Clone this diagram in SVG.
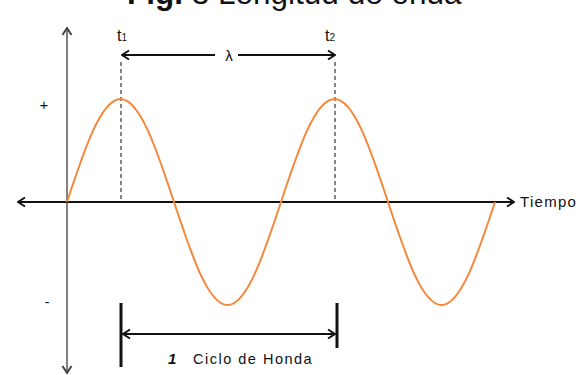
<svg xmlns="http://www.w3.org/2000/svg" width="580" height="375" viewBox="0 0 580 375">
  <style>
    .lbl { font-family: "Liberation Sans", Arial, sans-serif; fill: #111; }
    .axis { stroke: #111; stroke-width: 2; fill: none; }
    .vaxis { stroke: #808080; stroke-width: 2; fill: none; }
    .dash { stroke: #333; stroke-width: 1.2; stroke-dasharray: 4 3; fill: none; }
    .dim { stroke: #111; stroke-width: 2; fill: none; }
    .bar { stroke: #111; stroke-width: 3; fill: none; }
    .wave { stroke: #f5883a; stroke-width: 2; fill: none; stroke-linejoin: round; }
  </style>
  <defs>
    <marker id="arrBlack" viewBox="0 0 10 12" refX="9" refY="6" markerWidth="10" markerHeight="12" markerUnits="userSpaceOnUse" orient="auto-start-reverse">
      <path d="M2,1.5 L9,6 L2,10.5" fill="none" stroke="#111" stroke-width="2"/>
    </marker>
    <marker id="arrGray" viewBox="0 0 10 12" refX="9" refY="6" markerWidth="10" markerHeight="12" markerUnits="userSpaceOnUse" orient="auto-start-reverse">
      <path d="M2,1.5 L9,6 L2,10.5" fill="none" stroke="#444" stroke-width="2"/>
    </marker>
  </defs>
  <rect width="580" height="375" fill="#ffffff"/>

  <g id="title">
    <text class="lbl" x="127" y="4" font-size="31.5"><tspan font-weight="bold">Fig.</tspan> 3 Longitud de onda</text>
  </g>

  <g id="connectors">
    <line id="v-axis" class="vaxis" x1="67" y1="373" x2="67" y2="28" marker-start="url(#arrGray)" marker-end="url(#arrGray)"/>
    <line id="h-axis" class="axis" x1="18" y1="202" x2="514" y2="202" marker-start="url(#arrBlack)" marker-end="url(#arrBlack)"/>
    <line id="t1-dash" class="dash" x1="121" y1="62" x2="121" y2="202"/>
    <line id="t2-dash" class="dash" x1="335" y1="62" x2="335" y2="202"/>
    <line id="lambda-left" class="dim" x1="215" y1="55" x2="122" y2="55" marker-end="url(#arrBlack)"/>
    <line id="lambda-right" class="dim" x1="238" y1="55" x2="335" y2="55" marker-end="url(#arrBlack)"/>
    <line id="cycle-arrow" class="dim" x1="123" y1="334" x2="335" y2="334" marker-start="url(#arrBlack)" marker-end="url(#arrBlack)"/>
    <line id="cycle-bar-left" class="bar" x1="121" y1="303" x2="121" y2="367"/>
    <line id="cycle-bar-right" class="bar" x1="337" y1="303" x2="337" y2="348"/>
  </g>

  <g id="wave">
    <path class="wave" d="M67,202 c17.45,-52.8 34.14,-103 53.5,-103 c19.36,0 36.05,50.2 53.5,103 c17.45,52.8 34.14,103 53.5,103 c19.36,0 36.05,-50.2 53.5,-103 c17.45,-52.8 34.14,-103 53.5,-103 c19.36,0 36.05,50.2 53.5,103 c17.45,52.8 34.14,103 53.5,103 c19.36,0 36.05,-50.2 53.5,-103"/>
  </g>

  <g id="labels">
    <text class="lbl" x="44" y="110" font-size="15" text-anchor="middle">+</text>
    <text class="lbl" x="47" y="307" font-size="14" text-anchor="middle">-</text>
    <text class="lbl" x="117" y="41" font-size="16">t<tspan font-size="10" dy="0">1</tspan></text>
    <text class="lbl" x="325" y="41" font-size="16">t<tspan font-size="10" dy="0">2</tspan></text>
    <text class="lbl" x="229" y="61" font-size="15" text-anchor="middle">λ</text>
    <text class="lbl" x="520" y="207" font-size="15" letter-spacing="1.3">Tiempo</text>
    <text class="lbl" x="168" y="364" font-size="15" font-weight="bold" font-style="italic">1</text>
    <text class="lbl" x="193" y="364" font-size="14.5" letter-spacing="1.5">Ciclo de Honda</text>
  </g>
</svg>
